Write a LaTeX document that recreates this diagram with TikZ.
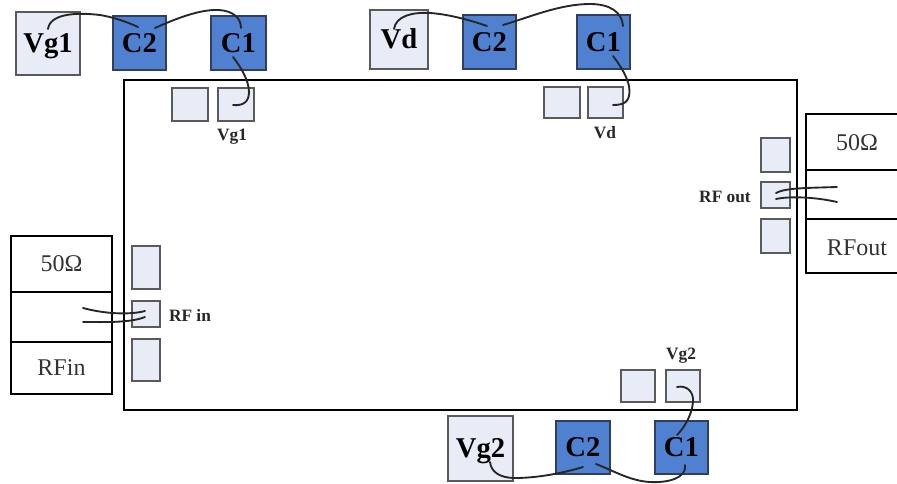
\documentclass[tikz,border=0pt]{standalone}
\usepackage{fontspec}
\setmainfont{Liberation Serif}
\usetikzlibrary{calc}
\definecolor{padfill}{HTML}{E8ECF7}
\definecolor{padline}{HTML}{5A5A5A}
\definecolor{capfill}{HTML}{4F81D0}
\definecolor{capline}{HTML}{2F3F5F}
\tikzset{
  x=0.75pt,y=-0.75pt,
  box/.style={rectangle,inner sep=0pt,outer sep=0pt,draw},
  pad/.style={box,fill=padfill,draw=padline,line width=1.5pt},
  supply/.style={pad,font=\fontsize{21.5}{22}\selectfont\bfseries,text=black},
  capbox/.style={box,fill=capfill,draw=capline,line width=1.2pt,font=\fontsize{21.5}{22}\selectfont\bfseries,text=black},
  load/.style={box,draw=black,line width=1.8pt,font=\fontsize{18}{18}\selectfont,text=black!80},
  chip/.style={box,draw=black,line width=1.8pt},
  tag/.style={inner sep=0pt,font=\fontsize{13}{13}\selectfont\bfseries,text=black!85},
  wire/.style={draw=black!85,line width=1.4pt,line cap=round},
}
\newcommand{\bx}[7][]{%
  \pgfmathsetmacro{\bxw}{(#5-#3)*0.75}\pgfmathsetmacro{\bxh}{(#6-#4)*0.75}%
  \node[#1,minimum width=\bxw pt,minimum height=\bxh pt] (#2) at ({(#3+#5)/2},{(#4+#6)/2}) {#7};}
\begin{document}
\begin{tikzpicture}
\useasboundingbox (0,0) rectangle (897,483);
\bx[chip]{main}{124}{80}{797}{410}{}
% top left group
\bx[supply]{vga}{16}{12}{80}{75}{\raisebox{-6.4pt}[9pt][9pt]{Vg1}}
\bx[capbox]{cca}{113}{16}{166}{70}{C2}
\bx[capbox]{cda}{211}{16}{266}{70}{C1}
\bx[pad,line width=1.2pt]{pa}{172}{88}{208}{121}{}
\bx[pad,line width=1.2pt]{pb}{218}{88}{254}{121}{}
\node[tag] (lvga) at (232,137) {Vg1};
% top middle group
\bx[supply]{vd}{370}{10}{428}{69}{\raisebox{-6.8pt}[9pt][9pt]{Vd}}
\bx[capbox]{ccb}{463}{15}{516}{69}{C2}
\bx[capbox]{cdb}{577}{15}{630}{69}{C1}
\bx[pad,line width=1.2pt]{pc}{544}{87}{580}{118}{}
\bx[pad,line width=1.2pt]{pd}{588}{87}{623}{118}{}
\node[tag] (lvd) at (605,133) {Vd};
% right side
\bx[pad,line width=1.2pt]{re}{761}{138}{790}{172}{}
\bx[pad,line width=1.2pt]{rf}{761}{182}{790}{208}{}
\bx[pad,line width=1.2pt]{rg}{761}{219}{790}{253}{}
\node[tag] (lrf) at (725,197) {RF out};
\bx[load]{ra}{806}{114}{908}{170}{}
\bx[load]{rb}{806}{170}{908}{219}{}
\bx[load]{rc}{806}{219}{908}{273}{}
\node[font=\fontsize{18}{18}\selectfont,text=black!80,inner sep=0pt] (tra) at (857,143) {50Ω};
\node[font=\fontsize{18}{18}\selectfont,text=black!80,inner sep=0pt] (trc) at (857,248) {RFout};
% left side
\bx[pad,line width=1.2pt]{le}{132}{246}{160}{289}{}
\bx[pad,line width=1.2pt]{lf}{132}{301}{160}{327}{}
\bx[pad,line width=1.2pt]{lg}{132}{339}{160}{381}{}
\node[tag] (lrg) at (190,315) {RF in};
\bx[load]{la}{11}{236}{112}{292}{50Ω}
\bx[load]{lb}{11}{292}{112}{342}{}
\bx[load]{lc}{11}{342}{112}{394}{RFin}
% bottom group
\bx[pad,line width=1.2pt]{bp}{621}{370}{655}{402}{}
\bx[pad,line width=1.2pt]{bq}{666}{370}{700}{402}{}
\node[tag] (lvgb) at (681,356) {Vg2};
\bx[supply]{vgb}{448}{416}{513}{481}{\raisebox{-6.4pt}[9pt][9pt]{Vg2}}
\bx[capbox]{ccc}{556}{421}{610}{474}{C2}
\bx[capbox]{cdc}{655}{421}{708}{474}{C1}
% wires
\coordinate (a1) at (48,29); \coordinate (a2) at (138,27);
\coordinate (a3) at (155,28); \coordinate (a4) at (241,28);
\coordinate (a5) at (233,57); \coordinate (a6) at (233,105);
\draw[wire] (a1) .. controls (50,14) and (75,12) .. (100,15) .. controls (112,17) and (125,21) .. (a2);
\draw[wire] (a3) .. controls (175,19) and (200,9) .. (219,10) .. controls (232,11) and (241,17) .. (a4);
\draw[wire] (a5) .. controls (240,66) and (249,80) .. (249,92) .. controls (249,102) and (243,106) .. (a6);
\coordinate (b1) at (394,29); \coordinate (b2) at (487,26);
\coordinate (b3) at (503,25); \coordinate (b4) at (623,26);
\coordinate (b5) at (613,56); \coordinate (b6) at (613,105);
\draw[wire] (b1) .. controls (396,16) and (412,12) .. (430,13) .. controls (447,14) and (470,20) .. (b2);
\draw[wire] (b3) .. controls (530,17) and (560,4) .. (590,4) .. controls (610,4) and (622,12) .. (b4);
\draw[wire] (b5) .. controls (620,65) and (630,80) .. (629.5,92) .. controls (629,102) and (624,105) .. (b6);
\coordinate (c1) at (677,387); \coordinate (c2) at (677,435);
\coordinate (c3) at (685,465); \coordinate (c4) at (596,464);
\coordinate (c5) at (583,467); \coordinate (c6) at (490,462);
\draw[wire] (c1) .. controls (686,385) and (694,391) .. (693,402) .. controls (692,415) and (684,428) .. (c2);
\draw[wire] (c3) .. controls (687,478) and (668,483) .. (650,482) .. controls (630,481) and (612,470) .. (c4);
\draw[wire] (c5) .. controls (560,474) and (535,478) .. (515,478) .. controls (500,478) and (491,472) .. (c6);
\coordinate (d1) at (776,193); \coordinate (d2) at (837,187);
\coordinate (d3) at (776,199); \coordinate (d4) at (837,202);
\draw[wire] (d1) .. controls (785,188) and (805,188) .. (d2);
\draw[wire] (d3) .. controls (790,196) and (815,197) .. (d4);
\coordinate (e1) at (83,308); \coordinate (e2) at (145,311);
\coordinate (e3) at (83,322); \coordinate (e4) at (145,317);
\draw[wire] (e1) .. controls (105,314) and (130,315) .. (e2);
\draw[wire] (e3) .. controls (105,322) and (130,323) .. (e4);
\end{tikzpicture}
\end{document}
